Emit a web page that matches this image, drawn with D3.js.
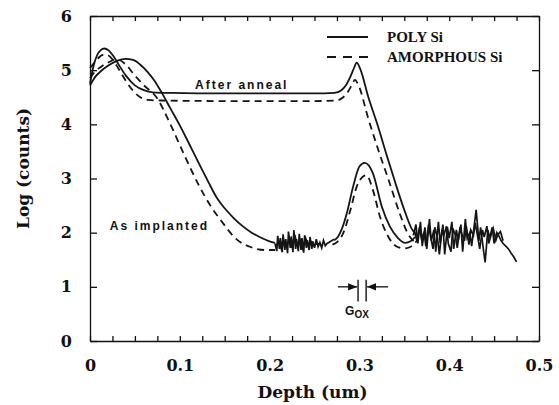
<!DOCTYPE html>
<html lang="en">
<head>
<meta charset="utf-8">
<title>SIMS profile: Log (counts) vs depth</title>
<script src="https://cdn.jsdelivr.net/npm/d3@7"></script>
<style>
    body {margin: 0; background: #fff;}
    svg {display: block;}
    .axis path, .axis line {stroke: #111; stroke-width: 1.3;}
    .axis text {font-family: "DejaVu Serif", serif; font-weight: bold; font-size: 16px; fill: #111;}
    .title {font-family: "DejaVu Serif", serif; font-weight: bold; font-size: 17px; fill: #111;}
    .legend {font-family: "Liberation Serif", serif; font-weight: bold; font-size: 15px; fill: #111;}
    .note {font-family: "Liberation Sans", Arial, sans-serif; font-weight: bold; font-size: 12px; letter-spacing: 2px; fill: #111;}
    .curve {fill: none; stroke: #151515; stroke-width: 1.8;}
    .noise {fill: none; stroke: #151515; stroke-width: 1.7;}
</style>
</head>
<body>
<script>
    // ---- data ----
    const depthTicks = [0, 0.1, 0.2, 0.3, 0.4, 0.5];
    const depthMinor = [0.025, 0.05, 0.075, 0.125, 0.15, 0.175, 0.225, 0.25, 0.275, 0.325, 0.35, 0.375, 0.425, 0.45, 0.475];
    const logTicks = [0, 1, 2, 3, 4, 5, 6];

    // POLY Si, after anneal (solid)
    const polyAnnealDepth = [0, 0.004, 0.008, 0.012, 0.016, 0.021, 0.026, 0.032, 0.04, 0.05, 0.06, 0.07, 0.09, 0.15, 0.2, 0.25, 0.272, 0.28, 0.285, 0.29, 0.294, 0.297, 0.301, 0.31, 0.32, 0.33, 0.34, 0.35, 0.358, 0.364];
    const polyAnnealLog   = [4.75, 5.08, 5.28, 5.37, 5.4, 5.36, 5.26, 5.1, 4.9, 4.72, 4.63, 4.59, 4.58, 4.57, 4.57, 4.57, 4.58, 4.63, 4.72, 4.88, 5.04, 5.14, 5.02, 4.5, 4.0, 3.45, 2.92, 2.42, 2.08, 1.95];

    // AMORPHOUS Si, after anneal (dashed)
    const amorAnnealDepth = [0, 0.004, 0.009, 0.014, 0.019, 0.025, 0.032, 0.04, 0.048, 0.056, 0.065, 0.08, 0.15, 0.2, 0.25, 0.274, 0.282, 0.288, 0.292, 0.295, 0.299, 0.31, 0.321, 0.333, 0.345, 0.355, 0.362];
    const amorAnnealLog   = [5.04, 5.12, 5.22, 5.28, 5.28, 5.2, 5.02, 4.8, 4.62, 4.5, 4.45, 4.44, 4.43, 4.43, 4.43, 4.44, 4.5, 4.62, 4.74, 4.82, 4.72, 4.1, 3.53, 2.95, 2.35, 1.95, 1.82];

    // POLY Si, as implanted (solid), before and after the noisy stretch
    const polyImplDepth = [0, 0.006, 0.012, 0.02, 0.03, 0.039, 0.048, 0.056, 0.064, 0.072, 0.08, 0.09, 0.1, 0.108, 0.12, 0.132, 0.141, 0.15, 0.16, 0.17, 0.18, 0.19, 0.2, 0.206];
    const polyImplLog   = [4.72, 4.88, 4.98, 5.08, 5.17, 5.21, 5.19, 5.1, 4.97, 4.8, 4.58, 4.28, 3.98, 3.72, 3.32, 2.93, 2.65, 2.45, 2.27, 2.12, 2.0, 1.91, 1.84, 1.81];
    const polyImpl2Depth = [0.272, 0.276, 0.28, 0.286, 0.293, 0.3, 0.306, 0.315, 0.325, 0.334, 0.343, 0.351, 0.357, 0.362];
    const polyImpl2Log   = [1.86, 1.92, 2.05, 2.36, 2.85, 3.22, 3.29, 3.1, 2.48, 2.11, 1.9, 1.81, 1.84, 1.92];

    // AMORPHOUS Si, as implanted (dashed)
    const amorImplDepth = [0, 0.006, 0.012, 0.02, 0.03, 0.04, 0.05, 0.06, 0.074, 0.089, 0.104, 0.122, 0.134, 0.147, 0.163, 0.178, 0.195, 0.206];
    const amorImplLog   = [4.85, 4.98, 5.06, 5.14, 5.2, 5.1, 4.9, 4.72, 4.5, 4.02, 3.47, 2.85, 2.5, 2.2, 1.88, 1.74, 1.68, 1.68];
    const amorImpl2Depth = [0.27, 0.276, 0.282, 0.29, 0.297, 0.303, 0.308, 0.315, 0.323, 0.332, 0.342, 0.35, 0.358, 0.364];
    const amorImpl2Log   = [1.78, 1.84, 1.99, 2.42, 2.85, 3.02, 3.06, 2.79, 2.29, 1.93, 1.74, 1.71, 1.75, 1.85];

    // noisy background counts (several overlapping traces)
    const noise1Depth = [0.206, 0.208, 0.209, 0.211, 0.212, 0.214, 0.215, 0.217, 0.218, 0.22, 0.221, 0.223, 0.224, 0.226, 0.227, 0.229, 0.23, 0.232, 0.233, 0.235, 0.236, 0.238, 0.239, 0.241, 0.242, 0.244, 0.245, 0.247, 0.248, 0.25, 0.252, 0.254, 0.256, 0.258, 0.26, 0.262, 0.264, 0.266, 0.268, 0.27, 0.272];
    const noise1Log   = [1.8, 1.66, 1.94, 1.7, 1.9, 1.64, 1.97, 1.68, 1.88, 1.62, 2.02, 1.72, 1.93, 1.64, 2.05, 1.7, 1.88, 1.66, 1.98, 1.68, 1.9, 1.63, 1.95, 1.72, 1.86, 1.68, 1.92, 1.7, 1.84, 1.72, 1.88, 1.74, 1.82, 1.72, 1.86, 1.76, 1.8, 1.82, 1.84, 1.86, 1.88];
    const noise4Depth = [0.207, 0.21, 0.213, 0.216, 0.219, 0.222, 0.225, 0.228, 0.231, 0.234, 0.237, 0.24, 0.243, 0.246, 0.249, 0.253, 0.257];
    const noise4Log   = [1.72, 1.86, 1.7, 1.84, 1.74, 1.9, 1.72, 1.96, 1.76, 1.86, 1.7, 1.9, 1.78, 1.84, 1.76, 1.8, 1.78];
    const noise2Depth = [0.36, 0.363, 0.365, 0.368, 0.37, 0.373, 0.375, 0.378, 0.38, 0.383, 0.385, 0.388, 0.39, 0.393, 0.395, 0.398, 0.4, 0.403, 0.405, 0.408, 0.41, 0.413, 0.415, 0.418, 0.42, 0.423, 0.425, 0.428, 0.43, 0.433, 0.435, 0.438, 0.44, 0.443, 0.445, 0.448, 0.45, 0.453, 0.455, 0.458, 0.46, 0.463, 0.466, 0.469, 0.472, 0.475];
    const noise2Log   = [1.95, 2.15, 1.8, 2.2, 1.75, 2.1, 1.7, 2.25, 1.85, 2.05, 1.65, 2.2, 1.8, 2.15, 1.6, 2.1, 1.9, 2.2, 1.7, 2.05, 1.85, 2.15, 1.65, 2.25, 1.9, 2.0, 1.75, 2.15, 2.42, 1.85, 2.1, 1.7, 1.45, 2.05, 1.9, 2.1, 1.8, 2.0, 1.95, 1.85, 1.8, 1.75, 1.7, 1.62, 1.55, 1.46];
    const noise3Depth = [0.361, 0.364, 0.367, 0.369, 0.372, 0.374, 0.377, 0.379, 0.382, 0.384, 0.387, 0.389, 0.392, 0.394, 0.397, 0.399, 0.402, 0.404, 0.407, 0.409, 0.412, 0.414, 0.417, 0.419, 0.422, 0.424, 0.427, 0.429, 0.432, 0.434, 0.437, 0.439, 0.442, 0.444, 0.447, 0.449, 0.452, 0.454, 0.457, 0.46];
    const noise3Log   = [2.05, 1.85, 2.1, 1.9, 2.0, 1.75, 2.15, 1.95, 1.7, 2.1, 1.9, 1.6, 2.05, 1.95, 2.12, 1.8, 1.65, 2.08, 1.95, 1.72, 2.1, 1.98, 1.85, 2.12, 1.78, 2.05, 1.95, 2.18, 1.9, 1.7, 2.05, 1.92, 2.12, 1.8, 1.98, 2.08, 1.86, 1.96, 2.02, 1.85];

    const legendItems = ["POLY Si", "AMORPHOUS Si"];

    // ---- layout ----
    const dim = {width: 559, height: 405};
    const margin = {left: 90, right: 20, top: 16, bottom: 64};

    const x = d3.scaleLinear().domain([0, 0.5]).range([margin.left, dim.width - margin.right]);
    const y = d3.scaleLinear().domain([0, 6]).range([dim.height - margin.bottom, margin.top]);

    const zip = (xs, ys) => xs.map((d, i) => [d, ys[i]]);

    const curves = [
        {pts: zip(polyAnnealDepth, polyAnnealLog), dashed: false},
        {pts: zip(amorAnnealDepth, amorAnnealLog), dashed: true},
        {pts: zip(polyImplDepth, polyImplLog), dashed: false},
        {pts: zip(polyImpl2Depth, polyImpl2Log), dashed: false},
        {pts: zip(amorImplDepth, amorImplLog), dashed: true},
        {pts: zip(amorImpl2Depth, amorImpl2Log), dashed: true},
    ];
    const noises = [
        zip(noise1Depth, noise1Log), zip(noise4Depth, noise4Log),
        zip(noise2Depth, noise2Log), zip(noise3Depth, noise3Log)
    ];

    const svg = d3.select("body").append("svg")
        .attr("width", dim.width)
        .attr("height", dim.height);

    // ---- axes (ticks point inwards on all four sides) ----
    const bottom = dim.height - margin.bottom, right = dim.width - margin.right;

    svg.append("g").attr("class", "axis")
        .attr("transform", `translate(0,${bottom})`)
        .call(d3.axisBottom(x).tickValues(depthTicks).tickSize(-5).tickSizeOuter(0).tickPadding(19)
            .tickFormat(d => d === 0 ? "0" : d3.format(".1f")(d)));
    svg.append("g").attr("class", "axis")
        .attr("transform", `translate(0,${bottom})`)
        .call(d3.axisBottom(x).tickValues(depthMinor).tickSize(-5).tickSizeOuter(0).tickFormat(""))
        .call(g => g.select(".domain").remove());
    svg.append("g").attr("class", "axis")
        .attr("transform", `translate(0,${margin.top})`)
        .call(d3.axisTop(x).tickValues(depthTicks.concat(depthMinor)).tickSize(-5).tickSizeOuter(0).tickFormat(""));
    svg.append("g").attr("class", "axis")
        .attr("transform", `translate(${margin.left},0)`)
        .call(d3.axisLeft(y).tickValues(logTicks).tickSize(-7).tickSizeOuter(0).tickPadding(18).tickFormat(d3.format("d")));
    svg.append("g").attr("class", "axis")
        .attr("transform", `translate(${right},0)`)
        .call(d3.axisRight(y).tickValues(logTicks).tickSize(-7).tickSizeOuter(0).tickFormat(""));

    svg.append("text").attr("class", "title")
        .attr("x", (margin.left + right) / 2 - 2).attr("y", 398)
        .attr("text-anchor", "middle")
        .text("Depth (um)");
    svg.append("text").attr("class", "title")
        .attr("transform", `translate(29,${(margin.top + bottom) / 2 - 10}) rotate(-90)`)
        .attr("text-anchor", "middle")
        .text("Log (counts)");

    // ---- curves ----
    const line = d3.line().x(d => x(d[0])).y(d => y(d[1]));

    svg.selectAll(".curve")
        .data(curves)
        .join("path")
        .attr("class", "curve")
        .attr("stroke-dasharray", d => d.dashed ? "7,5" : null)
        .attr("d", d => line.curve(d3.curveMonotoneX)(d.pts));

    svg.selectAll(".noise")
        .data(noises)
        .join("path")
        .attr("class", "noise")
        .attr("d", d => line.curve(d3.curveLinear)(d));

    // ---- legend ----
    const legend = svg.append("g").attr("transform", "translate(327,37)");
    legendItems.forEach((name, i) => {
        legend.append("line")
            .attr("class", "curve")
            .attr("x1", 0).attr("x2", 41)
            .attr("y1", i * 20).attr("y2", i * 20)
            .attr("stroke-dasharray", i ? "9,7" : null);
        legend.append("text")
            .attr("class", "legend")
            .attr("x", 60).attr("y", i * 20 + 5)
            .text(name);
    });

    // ---- annotations ----
    svg.append("text").attr("class", "note")
        .attr("x", x(0.117)).attr("y", y(4.66))
        .text("After  anneal");
    svg.append("text").attr("class", "note")
        .attr("x", x(0.022)).attr("y", y(2.05))
        .text("As implanted");

    const gox = svg.append("text").attr("class", "note")
        .attr("x", x(0.284)).attr("y", y(0.48))
        .style("letter-spacing", "0px");
    gox.append("tspan").text("G");
    gox.append("tspan").attr("dy", 3).style("font-size", "10px").text("OX");

    svg.append("defs").append("marker")
        .attr("id", "head")
        .attr("viewBox", "0 0 10 10")
        .attr("refX", 10).attr("refY", 5)
        .attr("markerWidth", 7).attr("markerHeight", 7)
        .attr("orient", "auto")
        .append("path").attr("d", "M0,1L10,5L0,9Z").attr("fill", "#111");

    [0.2985, 0.3075].forEach(d => {
        svg.append("line")
            .attr("x1", x(d)).attr("x2", x(d))
            .attr("y1", y(1.13)).attr("y2", y(0.73))
            .attr("stroke", "#111").attr("stroke-width", 1.4);
    });
    [[0.276, 0.2975], [0.332, 0.3085]].forEach(([a, b]) => {
        svg.append("line")
            .attr("x1", x(a)).attr("x2", x(b))
            .attr("y1", y(1.0)).attr("y2", y(1.0))
            .attr("stroke", "#111").attr("stroke-width", 1.3)
            .attr("marker-end", "url(#head)");
    });
</script>
</body>
</html>
